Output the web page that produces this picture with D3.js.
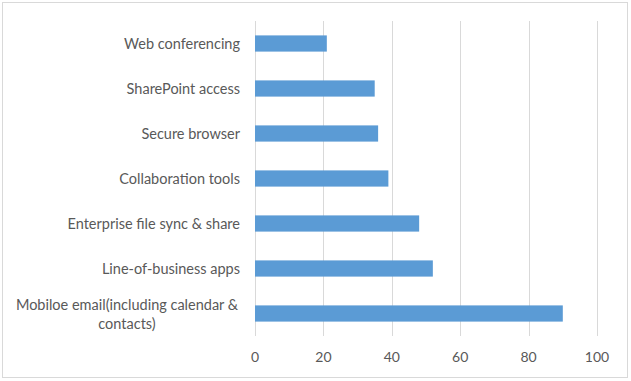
<!DOCTYPE html>
<html><head><meta charset="utf-8">
<script src="https://cdn.jsdelivr.net/npm/d3@7"></script>
<style>body{margin:0;background:#fff}svg{display:block}</style>
</head><body>
<svg id="chart" width="631" height="381"></svg>
<script>
const categories = ["Web conferencing","SharePoint access","Secure browser","Collaboration tools","Enterprise file sync & share","Line-of-business apps","Mobiloe email(including calendar & contacts)"];
const values = [21,35,36,39,48,52,90];
const tickValues = [0,20,40,60,80,100];
const labelLines = [["Web conferencing"],["SharePoint access"],["Secure browser"],["Collaboration tools"],["Enterprise file sync & share"],["Line-of-business apps"],["Mobiloe email(including calendar &","contacts)"]];

const svg = d3.select("#chart");
const font = "Lato, 'Open Sans', sans-serif";
svg.append("rect").attr("x",2.5).attr("y",2.5).attr("width",625).attr("height",375)
  .attr("fill","#fff").attr("stroke","#d9d9d9");

const x = d3.scaleLinear().domain([0,100]).range([255,597]);
const y = d3.scaleBand().domain(categories).range([21,336]).paddingInner(0.64).paddingOuter(0.32);

svg.append("g").selectAll("line").data(tickValues).join("line")
  .attr("x1",d=>Math.round(x(d))+0.5).attr("x2",d=>Math.round(x(d))+0.5)
  .attr("y1",21).attr("y2",336).attr("stroke","#d9d9d9").attr("stroke-width",1);

svg.append("g").selectAll("rect").data(categories).join("rect")
  .attr("x",x(0)).attr("y",d=>y(d)).attr("width",(d,i)=>x(values[i])-x(0))
  .attr("height",y.bandwidth()).attr("fill","#5b9bd5");

svg.append("g").selectAll("text").data(tickValues).join("text")
  .attr("x",d=>x(d)).attr("y",357).attr("dy","0.35em").attr("text-anchor","middle")
  .attr("font-family",font).attr("font-size",14).attr("fill","#595959").text(d=>d);

const lg = svg.append("g");
categories.forEach((c,i)=>{
  const lines = labelLines[i];
  const cy = y(c)+y.bandwidth()/2;
  const lh = 19;
  const t = lg.append("text").attr("font-family",font).attr("font-size",14.5).attr("fill","#595959");
  if(lines.length===1){
    t.attr("x",240).attr("y",cy).attr("dy","0.35em").attr("text-anchor","end").text(lines[0]);
  } else {
    t.attr("text-anchor","middle");
    lines.forEach((l,j)=>{
      t.append("tspan").attr("x",127).attr("y",cy-lh/2+j*lh + 1).attr("dy","0.35em").text(l);
    });
  }
});
</script>
</body></html>
